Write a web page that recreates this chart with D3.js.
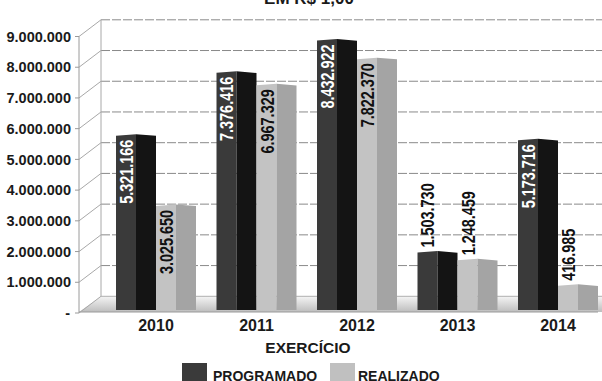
<!DOCTYPE html>
<html>
<head>
<meta charset="utf-8">
<script src="https://cdn.jsdelivr.net/npm/d3@7"></script>
<style>
html,body{margin:0;padding:0;background:#fff;}
svg{display:block;}
text{font-family:"Liberation Sans",Arial,sans-serif;}
</style>
</head>
<body>
<svg id="chart" width="602" height="381"></svg>
<script>
const title = "EM R$ 1,00";
const years = ["2010", "2011", "2012", "2013", "2014"];
const programado = [5321166, 7376416, 8432922, 1503730, 5173716];
const realizado = [3025650, 6967329, 7822370, 1248459, 416985];
const yTickValues = [0, 1000000, 2000000, 3000000, 4000000, 5000000, 6000000, 7000000, 8000000, 9000000];
const seriesNames = ["PROGRAMADO", "REALIZADO"];
const xAxisTitle = "EXERCÍCIO";

const locale = d3.formatLocale({decimal: ",", thousands: ".", grouping: [3], currency: ["R$", ""]});
const fmt = locale.format(",");

const svg = d3.select("#chart");
const W = 602, H = 381;

// geometry
const depthX = 22, depthY = -16.7;
const axisX = 79;
const yFront = d3.scaleLinear().domain([0, 9000000]).range([313, 36.5]);
const yBack = v => yFront(v) + depthY;
const yBar = d3.scaleLinear().domain([0, 9000000]).range([297.5, 22.1]);
const barBottom = 310;
const x = d3.scalePoint().domain(years).range([156, 558]);
const faceW = 20;

const colors = {
  progL: "#3a3a3a", progR: "#141414",
  realL: "#c3c3c3", realR: "#a4a4a4"
};

// defs
const defs = svg.append("defs");
const fg = defs.append("linearGradient").attr("id", "floorGrad").attr("x1", 0).attr("y1", 0).attr("x2", 0).attr("y2", 1);
fg.append("stop").attr("offset", "0%").attr("stop-color", "#f4f4f4");
fg.append("stop").attr("offset", "100%").attr("stop-color", "#bdbdbd");

// floor
const floorBackY = yBack(0), floorFrontY = 312;
svg.append("path")
  .attr("d", `M${axisX},${floorFrontY} L${axisX + depthX},${floorBackY} L${W},${floorBackY} L${W},${floorFrontY} Z`)
  .attr("fill", "url(#floorGrad)");
svg.append("line").attr("x1", axisX).attr("x2", W - 4).attr("y1", floorFrontY).attr("y2", floorFrontY)
  .attr("stroke", "#9a9a9a").attr("stroke-width", 1);
svg.append("line").attr("x1", axisX + depthX).attr("x2", W).attr("y1", floorBackY).attr("y2", floorBackY)
  .attr("stroke", "#b0b0b0").attr("stroke-width", 1);

// back wall gridlines (dashed)
svg.append("g").selectAll("line").data(yTickValues.filter(d => d > 0)).join("line")
  .attr("x1", axisX + depthX).attr("x2", W)
  .attr("y1", d => yBack(d)).attr("y2", d => yBack(d))
  .attr("stroke", "#8a8a8a").attr("stroke-width", 1).attr("stroke-dasharray", "9,2");

// side wall diagonals
svg.append("g").selectAll("line").data(yTickValues).join("line")
  .attr("x1", axisX).attr("x2", axisX + depthX)
  .attr("y1", d => yFront(d)).attr("y2", d => yBack(d))
  .attr("stroke", "#a8a8a8").attr("stroke-width", 1);

// back vertical line
svg.append("line").attr("x1", axisX + depthX).attr("x2", axisX + depthX)
  .attr("y1", yBack(9000000)).attr("y2", yBack(0))
  .attr("stroke", "#a8a8a8").attr("stroke-width", 1);

// front axis
svg.append("line").attr("x1", axisX).attr("x2", axisX)
  .attr("y1", yFront(9000000)).attr("y2", yFront(0))
  .attr("stroke", "#9a9a9a").attr("stroke-width", 1);
svg.append("g").selectAll("line").data(yTickValues).join("line")
  .attr("x1", axisX - 4).attr("x2", axisX)
  .attr("y1", d => yFront(d)).attr("y2", d => yFront(d))
  .attr("stroke", "#9a9a9a").attr("stroke-width", 1);

// y tick labels
svg.append("g").selectAll("text").data(yTickValues).join("text")
  .attr("x", d => d === 0 ? 70 : 71)
  .attr("y", d => yFront(d))
  .attr("dy", "0.36em")
  .attr("text-anchor", "end")
  .attr("font-size", 14.5)
  .attr("font-weight", "bold")
  .attr("fill", "#1a1a1a")
  .text(d => d === 0 ? "-" : fmt(d));

// bars
function drawBar(g, x0, top, cL, cR) {
  const xm = x0 + faceW, x1 = x0 + 2 * faceW;
  g.append("path")
    .attr("d", `M${x0},${barBottom} L${x0},${top + 1} L${xm},${top - 0.5} L${xm},${barBottom} Z`)
    .attr("fill", cL);
  g.append("path")
    .attr("d", `M${xm},${barBottom} L${xm},${top - 0.5} L${x1},${top + 1.2} L${x1},${barBottom} Z`)
    .attr("fill", cR);
}

const barsG = svg.append("g");
const labelsG = svg.append("g");

function drawLabel(cx, top, v, inside, color) {
  const yPos = inside ? top + 5 : top - 4;
  labelsG.append("text")
    .attr("transform", `translate(${cx},${yPos}) rotate(-90) scale(0.78,1)`)
    .attr("text-anchor", inside ? "end" : "start")
    .attr("dy", "0.36em")
    .attr("font-size", 18.5)
    .attr("font-weight", "bold")
    .attr("fill", color)
    .text(fmt(v));
}

years.forEach((yr, i) => {
  const c = x(yr);
  const pTop = yBar(programado[i]);
  const rTop = yBar(realizado[i]);
  drawBar(barsG, c - 2 * faceW, pTop, colors.progL, colors.progR);
  drawBar(barsG, c, rTop, colors.realL, colors.realR);
  const pInside = (barBottom - pTop) > 75;
  const rInside = (barBottom - rTop) > 75;
  drawLabel(c - 30, pTop, programado[i], pInside, pInside ? "#ffffff" : "#111111");
  drawLabel(c + 10.5, rTop, realizado[i], rInside, "#111111");
});

// x labels
svg.append("g").selectAll("text").data(years).join("text")
  .attr("x", d => x(d)).attr("y", 331)
  .attr("text-anchor", "middle")
  .attr("font-size", 16).attr("font-weight", "bold").attr("fill", "#1a1a1a")
  .text(d => d);

// axis title
svg.append("text").attr("x", 308).attr("y", 353)
  .attr("text-anchor", "middle").attr("font-size", 15.5).attr("font-weight", "bold").attr("fill", "#1a1a1a")
  .text(xAxisTitle);

// chart title (cut at top)
svg.append("text").attr("x", 309).attr("y", 4)
  .attr("text-anchor", "middle").attr("font-size", 17).attr("font-weight", "bold").attr("fill", "#1a1a1a")
  .text(title);

// legend
const legend = [
  {name: seriesNames[0], color: colors.progL, sx: 182, tx: 213},
  {name: seriesNames[1], color: "#c0c0c0", sx: 330, tx: 358}
];
const lg = svg.append("g");
legend.forEach(l => {
  lg.append("rect").attr("x", l.sx).attr("y", 363).attr("width", 25).attr("height", 20).attr("fill", l.color);
  lg.append("text").attr("x", l.tx).attr("y", 380.5)
    .attr("font-size", 14).attr("font-weight", "bold").attr("fill", "#1a1a1a")
    .text(l.name);
});
</script>
</body>
</html>
